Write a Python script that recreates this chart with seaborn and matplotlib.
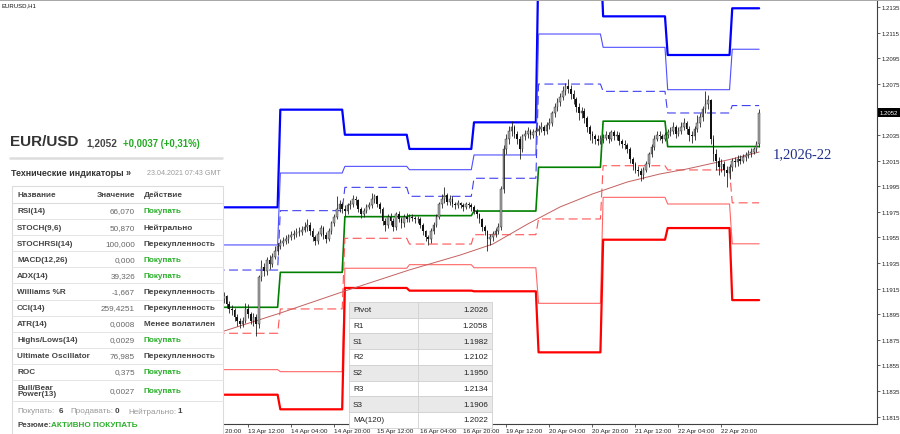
import numpy as np
import matplotlib
matplotlib.use('Agg')
import matplotlib.pyplot as plt
import matplotlib.patches as mpatches
import seaborn as sns

# ---- data -------------------------------------------------------------
# H1 bars, bar index 0 = 12 Apr 20:00, first drawn bar is index 6
first_bar = 6
first_open = 1.1910
closes = [
    # 13 Apr
    1.1907, 1.1909, 1.1903, 1.1899, 1.1898, 1.1893, 1.1890, 1.1887, 1.1890, 1.1899, 1.1895,
    1.1890, 1.1893, 1.1887, 1.1924, 1.1932, 1.1929, 1.1937, 1.1934, 1.1940, 1.1944, 1.1948,
    # 14 Apr
    1.1951, 1.1952, 1.1954, 1.1955, 1.1957, 1.1958, 1.1959, 1.1959, 1.1961, 1.1963, 1.1965, 1.1960,
    1.1955, 1.1952, 1.1958, 1.1962, 1.1957, 1.1954, 1.1960, 1.1966, 1.1971, 1.1977, 1.1981, 1.1977,
    # 15 Apr
    1.1976, 1.1980, 1.1981, 1.1985, 1.1984, 1.1977, 1.1973, 1.1976, 1.1979, 1.1980, 1.1985, 1.1987,
    1.1981, 1.1977, 1.1968, 1.1965, 1.1971, 1.1968, 1.1963, 1.1973, 1.1969, 1.1966, 1.1971, 1.1969,
    # 16 Apr
    1.1971, 1.1970, 1.1969, 1.1969, 1.1965, 1.1960, 1.1955, 1.1954, 1.1960, 1.1965, 1.1971, 1.1981,
    1.1985, 1.1988, 1.1983, 1.1985, 1.1981, 1.1980, 1.1982, 1.1980, 1.1979, 1.1981, 1.1980, 1.1979,
    # 19 Apr
    1.1976, 1.1973, 1.1969, 1.1963, 1.1960, 1.1954, 1.1955, 1.1958, 1.1960, 1.1963, 1.1993, 1.2024,
    1.2032, 1.2038, 1.2041, 1.2036, 1.2032, 1.2024, 1.2034, 1.2036, 1.2038, 1.2035, 1.2037, 1.2038,
    # 20 Apr
    1.2040, 1.2041, 1.2038, 1.2043, 1.2044, 1.2052, 1.2057, 1.2061, 1.2065, 1.2069, 1.2073, 1.2071,
    1.2067, 1.2063, 1.2057, 1.2052, 1.2054, 1.2048, 1.2041, 1.2036, 1.2034, 1.2032, 1.2030, 1.2032,
    # 21 Apr
    1.2033, 1.2035, 1.2032, 1.2037, 1.2034, 1.2035, 1.2030, 1.2028, 1.2027, 1.2024, 1.2016, 1.2012,
    1.2008, 1.2007, 1.2004, 1.2008, 1.2012, 1.2020, 1.2026, 1.2032, 1.2035, 1.2034, 1.2032, 1.2035,
    # 22 Apr
    1.2037, 1.2038, 1.2041, 1.2036, 1.2038, 1.2041, 1.2044, 1.2040, 1.2035, 1.2034, 1.2040, 1.2044,
    1.2049, 1.2055, 1.2059, 1.2062, 1.2032, 1.2020, 1.2015, 1.2010, 1.2012, 1.2008, 1.2005, 1.2010,
    # 23 Apr
    1.2015, 1.2014, 1.2016, 1.2015, 1.2018, 1.2019, 1.2021, 1.2022, 1.2024, 1.2028, 1.2052,
]
highs = [
    1.1913, 1.1912, 1.1910, 1.1905, 1.1902, 1.1900, 1.1895, 1.1892, 1.1893, 1.1904, 1.1903,
    1.1897, 1.1896, 1.1895, 1.1926, 1.1937, 1.1935, 1.1940, 1.1941, 1.1943, 1.1948, 1.1951,
    1.1954, 1.1955, 1.1957, 1.1958, 1.1960, 1.1961, 1.1962, 1.1963, 1.1964, 1.1967, 1.1969, 1.1967,
    1.1962, 1.1957, 1.1960, 1.1965, 1.1964, 1.1959, 1.1962, 1.1968, 1.1973, 1.1987, 1.1984, 1.1983,
    1.1980, 1.1982, 1.1984, 1.1988, 1.1987, 1.1985, 1.1979, 1.1978, 1.1981, 1.1983, 1.1990, 1.1989,
    1.1988, 1.1983, 1.1979, 1.1970, 1.1973, 1.1974, 1.1970, 1.1975, 1.1976, 1.1971, 1.1973, 1.1974,
    1.1973, 1.1973, 1.1972, 1.1972, 1.1971, 1.1966, 1.1961, 1.1957, 1.1962, 1.1967, 1.1973, 1.1983,
    1.1989, 1.1994, 1.1990, 1.1988, 1.1987, 1.1983, 1.1984, 1.1983, 1.1982, 1.1983, 1.1983, 1.1982,
    1.1980, 1.1977, 1.1974, 1.1970, 1.1965, 1.1961, 1.1958, 1.1960, 1.1962, 1.1966, 1.1995, 1.2027,
    1.2036, 1.2042, 1.2046, 1.2043, 1.2038, 1.2034, 1.2036, 1.2039, 1.2041, 1.2040, 1.2040, 1.2041,
    1.2043, 1.2045, 1.2043, 1.2045, 1.2048, 1.2054, 1.2060, 1.2064, 1.2068, 1.2073, 1.2076, 1.2079,
    1.2074, 1.2070, 1.2065, 1.2060, 1.2057, 1.2056, 1.2050, 1.2043, 1.2038, 1.2036, 1.2035, 1.2035,
    1.2036, 1.2038, 1.2037, 1.2039, 1.2039, 1.2038, 1.2037, 1.2032, 1.2031, 1.2029, 1.2026, 1.2018,
    1.2014, 1.2011, 1.2009, 1.2010, 1.2015, 1.2022, 1.2028, 1.2035, 1.2038, 1.2038, 1.2036, 1.2037,
    1.2040, 1.2041, 1.2045, 1.2043, 1.2041, 1.2045, 1.2048, 1.2046, 1.2042, 1.2038, 1.2042, 1.2051,
    1.2052, 1.2058, 1.2069, 1.2066, 1.2063, 1.2035, 1.2024, 1.2018, 1.2016, 1.2015, 1.2011, 1.2012,
    1.2017, 1.2018, 1.2019, 1.2019, 1.2020, 1.2022, 1.2023, 1.2025, 1.2026, 1.2030, 1.2055,
]
lows = [
    1.1903, 1.1904, 1.1900, 1.1896, 1.1894, 1.1890, 1.1886, 1.1884, 1.1885, 1.1888, 1.1892,
    1.1887, 1.1886, 1.1878, 1.1884, 1.1921, 1.1925, 1.1926, 1.1930, 1.1932, 1.1938, 1.1941,
    1.1946, 1.1948, 1.1950, 1.1951, 1.1953, 1.1954, 1.1955, 1.1956, 1.1957, 1.1959, 1.1960, 1.1957,
    1.1952, 1.1949, 1.1950, 1.1956, 1.1954, 1.1951, 1.1952, 1.1958, 1.1964, 1.1969, 1.1975, 1.1974,
    1.1972, 1.1973, 1.1977, 1.1979, 1.1980, 1.1975, 1.1970, 1.1971, 1.1974, 1.1977, 1.1978, 1.1982,
    1.1979, 1.1974, 1.1965, 1.1960, 1.1962, 1.1965, 1.1960, 1.1961, 1.1967, 1.1962, 1.1963, 1.1967,
    1.1967, 1.1968, 1.1966, 1.1966, 1.1962, 1.1957, 1.1952, 1.1949, 1.1951, 1.1958, 1.1963, 1.1969,
    1.1978, 1.1982, 1.1980, 1.1980, 1.1979, 1.1977, 1.1978, 1.1978, 1.1976, 1.1977, 1.1978, 1.1976,
    1.1973, 1.1970, 1.1966, 1.1960, 1.1957, 1.1944, 1.1949, 1.1952, 1.1955, 1.1958, 1.1961, 1.1990,
    1.2020, 1.2028, 1.2034, 1.2033, 1.2028, 1.2016, 1.2022, 1.2031, 1.2033, 1.2032, 1.2033, 1.2034,
    1.2035, 1.2037, 1.2035, 1.2036, 1.2040, 1.2042, 1.2049, 1.2054, 1.2058, 1.2062, 1.2066, 1.2068,
    1.2063, 1.2059, 1.2053, 1.2047, 1.2048, 1.2044, 1.2037, 1.2031, 1.2029, 1.2028, 1.2027, 1.2028,
    1.2029, 1.2031, 1.2029, 1.2030, 1.2031, 1.2031, 1.2027, 1.2025, 1.2024, 1.2021, 1.2013, 1.2008,
    1.2005, 1.2003, 1.1999, 1.2001, 1.2006, 1.2010, 1.2018, 1.2023, 1.2030, 1.2031, 1.2029, 1.2030,
    1.2033, 1.2034, 1.2036, 1.2033, 1.2034, 1.2036, 1.2039, 1.2036, 1.2030, 1.2029, 1.2031, 1.2037,
    1.2041, 1.2046, 1.2052, 1.2055, 1.2028, 1.2015, 1.2008, 1.2004, 1.2006, 1.2003, 1.1994, 1.2001,
    1.2007, 1.2010, 1.2011, 1.2012, 1.2013, 1.2015, 1.2017, 1.2018, 1.2020, 1.2022, 1.2026,
]

# daily pivot levels, one value per trading day (13,14,15,16,19,20,21,22,23 Apr)
day_start = [4, 28, 52, 76, 100, 124, 148, 172, 196]
last_bar = 206
lvl_r3 = [1.19785, 1.20548, 1.20352, 1.20241, 1.20449, 1.21789, 1.21277, 1.20975, 1.2134]
lvl_r2 = [1.19491, 1.20053, 1.20105, 1.20079, 1.20194, 1.21139, 1.21035, 1.20704, 1.2102]
lvl_r1 = [1.19295, 1.19759, 1.19941, 1.19871, 1.20012, 1.20748, 1.20691, 1.20522, 1.2058]
lvl_p = [1.19004, 1.19277, 1.19712, 1.19720, 1.19756, 1.20098, 1.20458, 1.20259, 1.2026]
lvl_s1 = [1.18801, 1.18991, 1.19543, 1.19498, 1.19571, 1.19694, 1.20110, 1.20077, 1.1982]
lvl_s2 = [1.18517, 1.18501, 1.19309, 1.19337, 1.19313, 1.19035, 1.19863, 1.19811, 1.1950]
lvl_s3 = [1.18321, 1.18207, 1.19155, 1.19134, 1.19129, 1.18652, 1.19532, 1.19623, 1.1906]

ma_bars = [6, 28, 52, 76, 95, 107, 120, 132, 144, 157, 169, 179, 196, 206]
ma_vals = [1.18811, 1.18959, 1.19131, 1.19296, 1.19413, 1.19498, 1.19655, 1.19788,
           1.19889, 1.19983, 1.20045, 1.20084, 1.20163, 1.20217]

tick_bars = [0, 16, 32, 48, 64, 80, 96, 112, 128, 144, 160, 176, 192]
tick_labels = ['12 Apr 20:00', '13 Apr 12:00', '14 Apr 04:00', '14 Apr 20:00', '15 Apr 12:00',
               '16 Apr 04:00', '16 Apr 20:00', '19 Apr 12:00', '20 Apr 04:00', '20 Apr 20:00',
               '21 Apr 12:00', '22 Apr 04:00', '22 Apr 20:00']

ind_names = ['RSI(14)', 'STOCH(9,6)', 'STOCHRSI(14)', 'MACD(12,26)', 'ADX(14)', 'Williams %R',
             'CCI(14)', 'ATR(14)', 'Highs/Lows(14)', 'Ultimate Oscillator', 'ROC', 'Bull/Bear\nPower(13)']
ind_values = ['66,070', '50,870', '100,000', '0,000', '39,326', '-1,667', '259,4251', '0,0008',
              '0,0029', '76,985', '0,375', '0,0027']
ind_actions = ['Покупать', 'Нейтрально', 'Перекупленность', 'Покупать', 'Покупать', 'Перекупленность',
               'Перекупленность', 'Менее волатилен', 'Покупать', 'Перекупленность', 'Покупать', 'Покупать']

piv_names = ['Pivot', 'R1', 'S1', 'R2', 'S2', 'R3', 'S3', 'MA(120)']
piv_values = ['1.2026', '1.2058', '1.1982', '1.2102', '1.1950', '1.2134', '1.1906', '1.2022']

# ---- figure -----------------------------------------------------------
sns.set_style('white')
plt.rcParams['font.family'] = ['Liberation Sans', 'DejaVu Sans']

W, H = 900, 435
PX = 2.69            # pixels per bar
fig = plt.figure(figsize=(9, 4.35), dpi=100)
ax = fig.add_axes([0, 10 / H, 877 / W, 425 / H])
ax.set_xlim(-205 / PX, (877 - 205) / PX)
ax.set_ylim(1.214125 - 425 / 12800, 1.214125)

# pivot levels (step per day)
lengths = np.diff(day_start + [last_bar + 1])
lvl_x = np.arange(day_start[0], last_bar + 1)
styles = [
    (lvl_r3, '#0000ff', 1.6, '-'),
    (lvl_r2, '#4f4fff', 0.8, '-'),
    (lvl_r1, '#4040f0', 0.8, (0, (8, 4))),
    (lvl_p, '#008000', 1.2, '-'),
    (lvl_s1, '#ff5555', 0.8, (0, (8, 4))),
    (lvl_s2, '#ff6666', 0.8, '-'),
    (lvl_s3, '#ff0000', 1.6, '-'),
]
for vals, col, lw, ls in styles:
    sns.lineplot(x=lvl_x, y=np.repeat(vals, lengths), color=col, lw=lw, linestyle=ls,
                 ax=ax, zorder=3)

sns.lineplot(x=ma_bars, y=ma_vals, color='#c46060', lw=0.7, ax=ax, zorder=3)

# candles
bars = np.arange(first_bar, first_bar + len(closes))
c = np.array(closes)
o = np.r_[first_open, c[:-1]]
up = c >= o
ax.vlines(bars, lows, highs, color='#222222', lw=0.6, zorder=4)
body_lo = np.minimum(o, c)
body_h = np.maximum(np.abs(c - o), 0.00003)
ax.bar(bars[up], body_h[up], bottom=body_lo[up], width=0.62, color='#a8a8a8',
       edgecolor='#222222', linewidth=0.3, zorder=5)
ax.bar(bars[~up], body_h[~up], bottom=body_lo[~up], width=0.62, color='#111111',
       linewidth=0, zorder=5)

# axes styling
for s in ['top', 'left']:
    ax.spines[s].set_visible(False)
for s in ['right', 'bottom']:
    ax.spines[s].set_color('#404040')
    ax.spines[s].set_linewidth(0.8)
yt = np.round(np.arange(1.1815, 1.2136, 0.002), 4)
ax.yaxis.tick_right()
ax.set_yticks(yt)
ax.set_yticklabels([f'{v:.4f}' for v in yt], fontsize=4.3)
ax.tick_params(axis='y', length=2, width=0.5, pad=1.5, colors='#222222', right=True)
ax.set_xticks(tick_bars)
ax.set_xticklabels(tick_labels, fontsize=4.6, ha='left')
ax.tick_params(axis='x', length=2, width=0.5, pad=1, colors='#222222', bottom=True)
ax.set_xlabel('')
ax.set_ylabel('')

# ---- overlay (panels, tables, labels) in pixel coordinates ------------
ov = fig.add_axes([0, 0, 1, 1], zorder=10)
ov.set_xlim(0, W)
ov.set_ylim(H, 0)
ov.axis('off')
ov.patch.set_alpha(0)

ov.add_patch(mpatches.Rectangle((0, 0), W, 2, color='#a8a8a8', lw=0))
ov.text(2, 5.5, 'EURUSD,H1', fontsize=4.3, va='center', color='#111111')
ov.text(773, 155, '1,2026-22', fontsize=10.5, va='center', color='#1f2f8a',
        family=['Liberation Serif', 'DejaVu Serif'])

# current price marker
ov.add_patch(mpatches.Rectangle((878, 108.5), 22, 9.5, color='black', lw=0))
ov.text(889, 113.3, '1.2052', fontsize=4.3, color='white', ha='center', va='center')

# left indicator panel
ov.add_patch(mpatches.Rectangle((0, 128), 222.5, H - 128, fc='white', ec='none'))
ov.text(10, 142.5, 'EUR/USD', fontsize=11, fontweight='bold', color='#333333', va='center')
ov.text(86, 144, '1,2052', fontsize=7.2, fontweight='bold', color='#444444', va='center')
ov.text(123, 144, '+0,0037 (+0,31%)', fontsize=6.9, fontweight='bold', color='#22aa22', va='center')
ov.plot([10, 222], [159, 159], color='#dddddd', lw=1.8)
ov.text(11, 173.5, 'Технические индикаторы »', fontsize=6.4, fontweight='bold',
        color='#333333', va='center')
ov.text(147, 173.5, '23.04.2021 07:43 GMT', fontsize=5.1, color='#9a9a9a', va='center')

ov.add_patch(mpatches.Rectangle((12, 187), 211, H - 186, fc='none', ec='#dcdcdc', lw=0.8))
ov.text(17, 195.5, 'Название', fontsize=5.9, fontweight='bold', color='#444444', va='center')
ov.text(135, 195.5, 'Значение', fontsize=5.9, fontweight='bold', color='#444444', va='center', ha='right')
ov.text(144, 195.5, 'Действие', fontsize=5.9, fontweight='bold', color='#444444', va='center')
ov.plot([12, 223], [204, 204], color='#dcdcdc', lw=0.8)
for i, (nm, val, act) in enumerate(zip(ind_names, ind_values, ind_actions)):
    yc = 212 + 16.1 * i if i < 11 else 391.5
    acol = '#2cb02c' if act == 'Покупать' else '#444444'
    ov.text(17, yc, nm, fontsize=5.9, fontweight='bold', color='#444444', va='center', linespacing=0.95)
    ov.text(135, yc, val, fontsize=5.9, color='#666666', va='center', ha='right')
    ov.text(144, yc, act, fontsize=5.9, fontweight='bold', color=acol, va='center')
    ysep = 220 + 16.1 * i if i < 11 else 402
    ov.plot([12, 223], [ysep, ysep], color='#e4e4e4', lw=0.7)

ov.text(17, 412, 'Покупать:', fontsize=5.9, color='#9a9a9a', va='center')
ov.text(59, 412, '6', fontsize=5.9, fontweight='bold', color='#444444', va='center')
ov.text(70, 412, 'Продавать:', fontsize=5.9, color='#9a9a9a', va='center')
ov.text(115, 412, '0', fontsize=5.9, fontweight='bold', color='#444444', va='center')
ov.text(128, 412, 'Нейтрально:', fontsize=5.9, color='#9a9a9a', va='center')
ov.text(178, 412, '1', fontsize=5.9, fontweight='bold', color='#444444', va='center')
ov.text(17, 425.5, 'Резюме:', fontsize=5.9, fontweight='bold', color='#444444', va='center')
ov.text(51, 425.5, 'АКТИВНО ПОКУПАТЬ', fontsize=5.9, fontweight='bold', color='#2cb02c', va='center')

# pivot table
row_h = 15.7
for i, (nm, val) in enumerate(zip(piv_names, piv_values)):
    y0 = 303 + row_h * i
    ov.add_patch(mpatches.Rectangle((349, y0), 143, row_h, fc='#e9e9e9' if i % 2 == 0 else 'white',
                                    ec='#d0d0d0', lw=0.6))
    ov.text(353, y0 + row_h / 2, nm, fontsize=5.9, color='#222222', va='center')
    ov.text(488, y0 + row_h / 2, val, fontsize=5.9, color='#222222', va='center', ha='right')
ov.plot([418, 418], [303, 303 + row_h * 8], color='#d0d0d0', lw=0.6)

fig.savefig('out.png', dpi=100)
